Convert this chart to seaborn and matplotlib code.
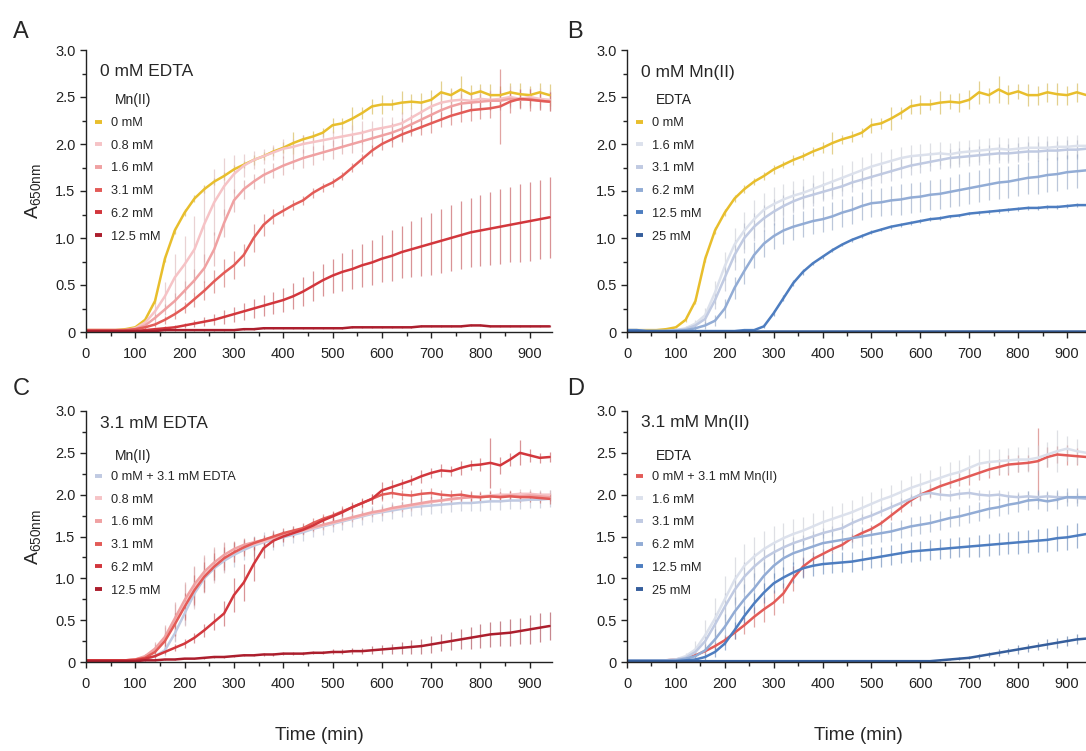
import numpy as np
import pandas as pd
import matplotlib
matplotlib.use("Agg")
import matplotlib.pyplot as plt
import matplotlib.colors as mcolors
import seaborn as sns
from matplotlib.lines import Line2D
from matplotlib.ticker import MultipleLocator

sns.set_style("ticks")
plt.rcParams['font.family'] = ['Liberation Sans', 'DejaVu Sans']
plt.rcParams['mathtext.default'] = 'regular'

# ---------------- data (20-min sampling) ----------------
TIME = [0, 20, 40, 60, 80, 100, 120, 140, 160, 180, 200, 220,
        240, 260, 280, 300, 320, 340, 360, 380, 400, 420, 440, 460,
        480, 500, 520, 540, 560, 580, 600, 620, 640, 660, 680, 700,
        720, 740, 760, 780, 800, 820, 840, 860, 880, 900, 920, 940]

# control: 0 mM Mn(II), 0 mM EDTA
CTRL = [0.02, 0.02, 0.02, 0.02, 0.03, 0.05, 0.13, 0.33, 0.78, 1.08, 1.27, 1.42,
        1.52, 1.60, 1.66, 1.73, 1.78, 1.83, 1.87, 1.92, 1.96, 2.01, 2.05, 2.08,
        2.12, 2.20, 2.22, 2.27, 2.33, 2.40, 2.42, 2.42, 2.44, 2.45, 2.44, 2.47,
        2.55, 2.52, 2.58, 2.53, 2.56, 2.52, 2.52, 2.55, 2.53, 2.52, 2.55, 2.52]
CTRL_ERR = [0.01, 0.01, 0.01, 0.01, 0.01, 0.01, 0.02, 0.03, 0.04, 0.04, 0.04, 0.04,
            0.04, 0.04, 0.04, 0.05, 0.04, 0.05, 0.04, 0.05, 0.06, 0.12, 0.05, 0.06,
            0.05, 0.08, 0.06, 0.12, 0.06, 0.08, 0.10, 0.06, 0.12, 0.08, 0.10, 0.10,
            0.12, 0.08, 0.14, 0.10, 0.08, 0.12, 0.10, 0.10, 0.12, 0.10, 0.10, 0.12]

# Mn(II) series, 0 mM EDTA
MN08 = [0.02, 0.02, 0.02, 0.02, 0.02, 0.04, 0.10, 0.22, 0.38, 0.58, 0.72, 0.88,
        1.15, 1.38, 1.55, 1.68, 1.77, 1.83, 1.87, 1.91, 1.95, 1.97, 2.00, 2.02,
        2.04, 2.06, 2.08, 2.10, 2.12, 2.15, 2.17, 2.19, 2.22, 2.28, 2.34, 2.40,
        2.44, 2.46, 2.47, 2.46, 2.48, 2.47, 2.48, 2.50, 2.48, 2.50, 2.48, 2.47]
MN08_ERR = [0.01, 0.01, 0.01, 0.01, 0.01, 0.01, 0.03, 0.08, 0.15, 0.25, 0.30, 0.35,
            0.40, 0.35, 0.30, 0.20, 0.12, 0.10, 0.08, 0.08, 0.10, 0.08, 0.10, 0.08,
            0.10, 0.08, 0.10, 0.10, 0.12, 0.10, 0.12, 0.10, 0.12, 0.10, 0.12, 0.10,
            0.10, 0.12, 0.10, 0.10, 0.12, 0.10, 0.10, 0.12, 0.10, 0.10, 0.12, 0.10]
MN16 = [0.02, 0.02, 0.02, 0.02, 0.02, 0.03, 0.07, 0.15, 0.24, 0.33, 0.44, 0.55,
        0.68, 0.88, 1.16, 1.40, 1.52, 1.60, 1.67, 1.72, 1.77, 1.81, 1.85, 1.88,
        1.91, 1.94, 1.97, 2.00, 2.03, 2.06, 2.09, 2.12, 2.16, 2.21, 2.26, 2.31,
        2.36, 2.40, 2.43, 2.44, 2.45, 2.46, 2.46, 2.48, 2.47, 2.48, 2.46, 2.45]
MN16_ERR = [0.01, 0.01, 0.01, 0.01, 0.01, 0.01, 0.02, 0.04, 0.06, 0.08, 0.10, 0.12,
            0.15, 0.18, 0.15, 0.12, 0.10, 0.08, 0.08, 0.08, 0.10, 0.08, 0.10, 0.10,
            0.08, 0.10, 0.08, 0.10, 0.12, 0.10, 0.08, 0.10, 0.12, 0.10, 0.10, 0.08,
            0.10, 0.08, 0.10, 0.10, 0.08, 0.10, 0.10, 0.08, 0.10, 0.10, 0.08, 0.10]
MN31 = [0.02, 0.02, 0.02, 0.02, 0.02, 0.03, 0.05, 0.08, 0.13, 0.19, 0.26, 0.35,
        0.44, 0.54, 0.63, 0.71, 0.82, 1.00, 1.14, 1.23, 1.29, 1.35, 1.40, 1.48,
        1.54, 1.59, 1.66, 1.75, 1.84, 1.93, 2.00, 2.05, 2.10, 2.14, 2.18, 2.22,
        2.26, 2.30, 2.33, 2.36, 2.37, 2.38, 2.40, 2.45, 2.48, 2.47, 2.46, 2.45]
MN31_ERR = [0.01, 0.01, 0.01, 0.01, 0.01, 0.01, 0.02, 0.03, 0.04, 0.05, 0.06, 0.08,
            0.10, 0.12, 0.15, 0.15, 0.12, 0.15, 0.12, 0.08, 0.06, 0.05, 0.05, 0.05,
            0.05, 0.05, 0.04, 0.05, 0.05, 0.06, 0.06, 0.08, 0.08, 0.06, 0.08, 0.10,
            0.08, 0.10, 0.10, 0.12, 0.10, 0.10, 0.40, 0.12, 0.10, 0.12, 0.10, 0.10]
MN62 = [0.00, 0.00, 0.00, 0.00, 0.01, 0.01, 0.02, 0.03, 0.04, 0.05, 0.07, 0.09,
        0.11, 0.13, 0.16, 0.19, 0.22, 0.25, 0.28, 0.31, 0.34, 0.38, 0.43, 0.49,
        0.55, 0.60, 0.64, 0.67, 0.71, 0.74, 0.78, 0.81, 0.85, 0.88, 0.91, 0.94,
        0.97, 1.00, 1.03, 1.06, 1.08, 1.10, 1.12, 1.14, 1.16, 1.18, 1.20, 1.22]
MN62_ERR = [0.00, 0.00, 0.00, 0.00, 0.00, 0.01, 0.01, 0.01, 0.02, 0.02, 0.03, 0.04,
            0.05, 0.06, 0.07, 0.08, 0.09, 0.10, 0.11, 0.12, 0.13, 0.14, 0.15, 0.16,
            0.17, 0.18, 0.20, 0.21, 0.23, 0.24, 0.25, 0.27, 0.28, 0.30, 0.31, 0.33,
            0.34, 0.35, 0.36, 0.37, 0.38, 0.39, 0.40, 0.40, 0.41, 0.42, 0.42, 0.43]
MN125 = [0.01, 0.01, 0.01, 0.01, 0.01, 0.01, 0.01, 0.01, 0.02, 0.02, 0.02, 0.02,
         0.02, 0.02, 0.02, 0.02, 0.03, 0.03, 0.04, 0.04, 0.04, 0.04, 0.04, 0.04,
         0.04, 0.04, 0.04, 0.05, 0.05, 0.05, 0.05, 0.05, 0.05, 0.05, 0.06, 0.06,
         0.06, 0.06, 0.06, 0.07, 0.07, 0.06, 0.06, 0.06, 0.06, 0.06, 0.06, 0.06]
MN125_ERR = [0.01] * 48

# EDTA series, 0 mM Mn(II)
ED16 = [0.02, 0.02, 0.01, 0.01, 0.01, 0.02, 0.04, 0.09, 0.18, 0.42, 0.70, 0.93,
        1.08, 1.20, 1.30, 1.36, 1.41, 1.45, 1.48, 1.52, 1.56, 1.60, 1.64, 1.68,
        1.72, 1.76, 1.79, 1.82, 1.85, 1.87, 1.88, 1.89, 1.90, 1.89, 1.91, 1.92,
        1.93, 1.94, 1.95, 1.94, 1.95, 1.96, 1.96, 1.96, 1.97, 1.97, 1.98, 1.98]
ED16_ERR = [0.01, 0.01, 0.01, 0.01, 0.01, 0.01, 0.02, 0.04, 0.08, 0.12, 0.15, 0.18,
            0.20, 0.20, 0.18, 0.18, 0.16, 0.16, 0.15, 0.15, 0.15, 0.15, 0.14, 0.14,
            0.14, 0.14, 0.13, 0.13, 0.12, 0.12, 0.12, 0.12, 0.12, 0.12, 0.12, 0.12,
            0.12, 0.12, 0.12, 0.12, 0.12, 0.12, 0.12, 0.12, 0.12, 0.12, 0.12, 0.12]
ED31 = [0.02, 0.02, 0.01, 0.01, 0.01, 0.02, 0.03, 0.07, 0.14, 0.34, 0.58, 0.82,
        1.00, 1.12, 1.21, 1.28, 1.34, 1.39, 1.43, 1.46, 1.49, 1.52, 1.55, 1.59,
        1.62, 1.65, 1.68, 1.71, 1.74, 1.77, 1.79, 1.81, 1.83, 1.85, 1.86, 1.87,
        1.88, 1.89, 1.90, 1.90, 1.91, 1.92, 1.92, 1.93, 1.93, 1.94, 1.94, 1.95]
ED31_ERR = [0.01, 0.01, 0.01, 0.01, 0.01, 0.01, 0.02, 0.04, 0.07, 0.10, 0.14, 0.16,
            0.16, 0.15, 0.14, 0.14, 0.12, 0.12, 0.12, 0.12, 0.10, 0.10, 0.10, 0.10,
            0.10, 0.10, 0.10, 0.10, 0.10, 0.10, 0.10, 0.10, 0.10, 0.10, 0.10, 0.10,
            0.10, 0.10, 0.10, 0.10, 0.10, 0.10, 0.10, 0.10, 0.10, 0.10, 0.10, 0.10]
ED62 = [0.01, 0.01, 0.01, 0.01, 0.01, 0.01, 0.02, 0.04, 0.07, 0.12, 0.25, 0.47,
        0.65, 0.82, 0.94, 1.02, 1.08, 1.12, 1.15, 1.18, 1.20, 1.23, 1.27, 1.30,
        1.34, 1.37, 1.38, 1.40, 1.41, 1.43, 1.44, 1.46, 1.47, 1.49, 1.51, 1.53,
        1.55, 1.57, 1.59, 1.60, 1.62, 1.64, 1.65, 1.67, 1.68, 1.70, 1.71, 1.72]
ED62_ERR = [0.01, 0.01, 0.01, 0.01, 0.01, 0.01, 0.01, 0.02, 0.04, 0.06, 0.10, 0.12,
            0.14, 0.14, 0.14, 0.14, 0.14, 0.14, 0.14, 0.14, 0.14, 0.15, 0.15, 0.15,
            0.15, 0.15, 0.15, 0.15, 0.16, 0.16, 0.16, 0.16, 0.16, 0.16, 0.17, 0.17,
            0.17, 0.17, 0.17, 0.17, 0.17, 0.17, 0.18, 0.18, 0.18, 0.18, 0.18, 0.18]
ED125 = [0.02, 0.02, 0.01, 0.01, 0.01, 0.01, 0.01, 0.01, 0.01, 0.01, 0.01, 0.01,
         0.02, 0.02, 0.06, 0.20, 0.36, 0.52, 0.64, 0.73, 0.80, 0.87, 0.93, 0.98,
         1.02, 1.06, 1.09, 1.12, 1.14, 1.16, 1.18, 1.20, 1.21, 1.23, 1.24, 1.26,
         1.27, 1.28, 1.29, 1.30, 1.31, 1.32, 1.32, 1.33, 1.33, 1.34, 1.35, 1.35]
ED125_ERR = [0.01, 0.01, 0.01, 0.01, 0.01, 0.01, 0.01, 0.01, 0.01, 0.01, 0.01, 0.01,
             0.01, 0.01, 0.02, 0.03, 0.03, 0.03, 0.03, 0.02, 0.02, 0.02, 0.02, 0.02,
             0.02, 0.02, 0.02, 0.02, 0.02, 0.02, 0.02, 0.02, 0.02, 0.02, 0.02, 0.02,
             0.02, 0.02, 0.02, 0.02, 0.02, 0.02, 0.02, 0.02, 0.02, 0.02, 0.02, 0.02]
ED25 = [0.01] * 48
ED25_ERR = [0.005] * 48

# Mn(II) series, 3.1 mM EDTA
C_MN08 = [0.02, 0.02, 0.02, 0.02, 0.02, 0.03, 0.06, 0.14, 0.27, 0.47, 0.68, 0.88,
          1.04, 1.15, 1.24, 1.31, 1.37, 1.41, 1.44, 1.48, 1.51, 1.54, 1.57, 1.60,
          1.63, 1.66, 1.69, 1.72, 1.75, 1.78, 1.80, 1.83, 1.85, 1.87, 1.89, 1.91,
          1.93, 1.94, 1.96, 1.97, 1.98, 1.99, 2.00, 2.00, 2.01, 2.01, 2.00, 2.00]
C_MN08_ERR = [0.01, 0.01, 0.01, 0.01, 0.01, 0.01, 0.03, 0.08, 0.15, 0.22, 0.25, 0.25,
              0.22, 0.20, 0.18, 0.12, 0.08, 0.06, 0.06, 0.06, 0.06, 0.06, 0.05, 0.05,
              0.05, 0.05, 0.05, 0.05, 0.05, 0.05, 0.05, 0.05, 0.06, 0.06, 0.06, 0.06,
              0.06, 0.06, 0.06, 0.06, 0.06, 0.06, 0.08, 0.06, 0.06, 0.06, 0.06, 0.06]
C_MN16 = [0.02, 0.02, 0.02, 0.02, 0.02, 0.03, 0.07, 0.16, 0.30, 0.52, 0.74, 0.93,
          1.08, 1.19, 1.28, 1.35, 1.40, 1.43, 1.46, 1.49, 1.52, 1.55, 1.58, 1.61,
          1.64, 1.67, 1.70, 1.73, 1.76, 1.79, 1.81, 1.84, 1.86, 1.88, 1.90, 1.92,
          1.93, 1.95, 1.96, 1.97, 1.97, 1.98, 1.98, 1.99, 1.98, 1.99, 1.98, 1.97]
C_MN16_ERR = [0.01, 0.01, 0.01, 0.01, 0.01, 0.01, 0.03, 0.08, 0.14, 0.20, 0.22, 0.22,
              0.20, 0.18, 0.15, 0.10, 0.08, 0.06, 0.05, 0.05, 0.05, 0.05, 0.05, 0.05,
              0.05, 0.05, 0.05, 0.05, 0.05, 0.05, 0.05, 0.05, 0.05, 0.05, 0.05, 0.05,
              0.05, 0.05, 0.05, 0.05, 0.05, 0.05, 0.05, 0.05, 0.05, 0.05, 0.05, 0.05]
# 3.1 mM Mn(II) + 3.1 mM EDTA (shared by panels C and D)
MN31_ED31 = [0.02, 0.02, 0.02, 0.02, 0.02, 0.03, 0.05, 0.12, 0.25, 0.45, 0.66, 0.86,
             1.02, 1.14, 1.24, 1.31, 1.37, 1.42, 1.46, 1.50, 1.54, 1.57, 1.60, 1.66,
             1.71, 1.75, 1.80, 1.85, 1.90, 1.95, 2.00, 2.02, 2.00, 1.99, 2.01, 2.02,
             2.00, 1.99, 2.00, 1.98, 1.97, 1.98, 1.97, 1.98, 1.97, 1.97, 1.96, 1.95]
MN31_ED31_ERR = [0.01, 0.01, 0.01, 0.01, 0.01, 0.01, 0.03, 0.06, 0.10, 0.14, 0.16, 0.18,
                 0.18, 0.16, 0.14, 0.12, 0.10, 0.08, 0.06, 0.06, 0.06, 0.06, 0.06, 0.06,
                 0.06, 0.06, 0.06, 0.06, 0.06, 0.06, 0.08, 0.06, 0.06, 0.06, 0.06, 0.06,
                 0.06, 0.06, 0.06, 0.06, 0.06, 0.06, 0.06, 0.06, 0.06, 0.06, 0.06, 0.06]
C_MN62 = [0.02, 0.02, 0.02, 0.02, 0.02, 0.02, 0.04, 0.07, 0.12, 0.17, 0.22, 0.29,
          0.38, 0.48, 0.58, 0.80, 0.95, 1.17, 1.36, 1.45, 1.50, 1.54, 1.58, 1.63,
          1.69, 1.74, 1.79, 1.85, 1.90, 1.95, 2.05, 2.09, 2.13, 2.17, 2.22, 2.26,
          2.29, 2.28, 2.32, 2.35, 2.36, 2.38, 2.35, 2.42, 2.50, 2.47, 2.44, 2.45]
C_MN62_ERR = [0.01, 0.01, 0.01, 0.01, 0.01, 0.01, 0.01, 0.02, 0.03, 0.04, 0.05, 0.06,
              0.08, 0.10, 0.15, 0.20, 0.22, 0.20, 0.12, 0.08, 0.06, 0.05, 0.05, 0.05,
              0.05, 0.05, 0.05, 0.05, 0.05, 0.06, 0.10, 0.08, 0.06, 0.06, 0.08, 0.06,
              0.08, 0.06, 0.08, 0.06, 0.08, 0.30, 0.10, 0.08, 0.15, 0.08, 0.06, 0.06]
C_MN125 = [0.01, 0.01, 0.01, 0.01, 0.01, 0.01, 0.02, 0.02, 0.03, 0.03, 0.04, 0.04,
           0.05, 0.06, 0.06, 0.07, 0.08, 0.08, 0.09, 0.09, 0.10, 0.10, 0.10, 0.11,
           0.11, 0.12, 0.12, 0.13, 0.13, 0.14, 0.15, 0.16, 0.17, 0.18, 0.19, 0.21,
           0.23, 0.25, 0.27, 0.29, 0.31, 0.33, 0.34, 0.35, 0.37, 0.39, 0.41, 0.43]
C_MN125_ERR = [0.00, 0.00, 0.00, 0.00, 0.00, 0.00, 0.01, 0.01, 0.01, 0.01, 0.01, 0.01,
               0.01, 0.01, 0.01, 0.01, 0.01, 0.01, 0.02, 0.02, 0.02, 0.02, 0.02, 0.02,
               0.02, 0.03, 0.03, 0.04, 0.04, 0.05, 0.05, 0.06, 0.07, 0.08, 0.09, 0.10,
               0.10, 0.11, 0.12, 0.13, 0.14, 0.15, 0.15, 0.16, 0.16, 0.17, 0.17, 0.17]

# EDTA series, 3.1 mM Mn(II)
D_ED16 = [0.02, 0.02, 0.02, 0.02, 0.02, 0.03, 0.07, 0.15, 0.32, 0.52, 0.75, 0.98,
          1.15, 1.26, 1.35, 1.42, 1.48, 1.53, 1.57, 1.62, 1.67, 1.71, 1.75, 1.79,
          1.84, 1.89, 1.94, 1.98, 2.03, 2.08, 2.12, 2.16, 2.20, 2.24, 2.27, 2.32,
          2.37, 2.39, 2.40, 2.41, 2.42, 2.42, 2.44, 2.48, 2.52, 2.55, 2.52, 2.50]
D_ED16_ERR = [0.01, 0.01, 0.01, 0.01, 0.01, 0.02, 0.04, 0.10, 0.18, 0.25, 0.28, 0.28,
              0.26, 0.24, 0.22, 0.20, 0.18, 0.18, 0.16, 0.16, 0.15, 0.15, 0.15, 0.15,
              0.14, 0.14, 0.14, 0.14, 0.14, 0.14, 0.14, 0.14, 0.14, 0.15, 0.15, 0.15,
              0.18, 0.15, 0.15, 0.15, 0.15, 0.15, 0.15, 0.15, 0.25, 0.15, 0.15, 0.15]
D_ED62 = [0.02, 0.02, 0.02, 0.02, 0.02, 0.02, 0.04, 0.07, 0.14, 0.27, 0.42, 0.60,
          0.75, 0.88, 1.03, 1.15, 1.24, 1.30, 1.34, 1.38, 1.42, 1.44, 1.46, 1.48,
          1.50, 1.52, 1.54, 1.56, 1.59, 1.62, 1.64, 1.66, 1.69, 1.72, 1.74, 1.77,
          1.80, 1.83, 1.85, 1.88, 1.90, 1.93, 1.94, 1.92, 1.94, 1.97, 1.97, 1.97]
D_ED62_ERR = [0.01, 0.01, 0.01, 0.01, 0.01, 0.01, 0.02, 0.04, 0.08, 0.12, 0.15, 0.18,
              0.18, 0.18, 0.16, 0.15, 0.14, 0.13, 0.12, 0.12, 0.12, 0.12, 0.12, 0.12,
              0.11, 0.11, 0.11, 0.11, 0.11, 0.11, 0.11, 0.11, 0.11, 0.11, 0.11, 0.11,
              0.11, 0.11, 0.11, 0.11, 0.11, 0.11, 0.11, 0.11, 0.11, 0.11, 0.11, 0.11]
D_ED125 = [0.01, 0.01, 0.01, 0.01, 0.01, 0.01, 0.02, 0.03, 0.06, 0.12, 0.22, 0.38,
           0.55, 0.70, 0.83, 0.94, 1.01, 1.07, 1.12, 1.15, 1.17, 1.18, 1.19, 1.20,
           1.22, 1.24, 1.26, 1.28, 1.30, 1.32, 1.33, 1.34, 1.35, 1.36, 1.37, 1.38,
           1.39, 1.40, 1.41, 1.42, 1.43, 1.44, 1.45, 1.46, 1.48, 1.49, 1.51, 1.53]
D_ED125_ERR = [0.01, 0.01, 0.01, 0.01, 0.01, 0.01, 0.01, 0.02, 0.04, 0.06, 0.08, 0.10,
               0.12, 0.12, 0.12, 0.12, 0.12, 0.12, 0.12, 0.12, 0.12, 0.12, 0.12, 0.12,
               0.12, 0.12, 0.12, 0.12, 0.12, 0.12, 0.12, 0.12, 0.12, 0.12, 0.12, 0.12,
               0.13, 0.13, 0.13, 0.13, 0.14, 0.14, 0.14, 0.14, 0.15, 0.15, 0.15, 0.15]
D_ED25 = [0.01, 0.01, 0.01, 0.01, 0.01, 0.01, 0.01, 0.01, 0.01, 0.01, 0.01, 0.01,
          0.01, 0.01, 0.01, 0.01, 0.01, 0.01, 0.01, 0.01, 0.01, 0.01, 0.01, 0.01,
          0.01, 0.01, 0.01, 0.01, 0.01, 0.01, 0.01, 0.01, 0.02, 0.03, 0.04, 0.05,
          0.07, 0.09, 0.11, 0.13, 0.15, 0.17, 0.19, 0.21, 0.23, 0.25, 0.27, 0.28]
D_ED25_ERR = [0.005, 0.005, 0.005, 0.005, 0.005, 0.005, 0.005, 0.005, 0.005, 0.005, 0.005, 0.005,
              0.005, 0.005, 0.005, 0.005, 0.005, 0.005, 0.005, 0.005, 0.005, 0.005, 0.005, 0.005,
              0.005, 0.005, 0.005, 0.005, 0.005, 0.005, 0.005, 0.005, 0.01, 0.01, 0.02, 0.02,
              0.03, 0.03, 0.04, 0.04, 0.05, 0.05, 0.05, 0.06, 0.06, 0.06, 0.06, 0.06]

# ---------------- colours ----------------
YELLOW = "#E8BE2C"
RED = {"0.8": "#F6C3C6", "1.6": "#F0A1A2", "3.1": "#E35B57", "6.2": "#D2363C", "12.5": "#AC1E2D"}
BLUE = {"1.6": "#DCE1EC", "3.1": "#C0CAE2", "6.2": "#92ACD5", "12.5": "#4D7DC0", "25": "#355E9C"}


def bar_colour(c):
    """error bars: series colour slightly greyed, as in the reference"""
    a = np.array(mcolors.to_rgb(c))
    g = np.array(mcolors.to_rgb("#8a8a8a"))
    return tuple(0.75 * a + 0.25 * g)


# layout (pixel offsets below each axes' top edge)
TOP_LAYOUT = dict(title=22, legtitle=50, legtop=67)
BOT_LAYOUT = dict(title=12, legtitle=45, legtop=60)

PANELS = [
    dict(letter="A", title="0 mM EDTA", legtitle="Mn(II)", lay=TOP_LAYOUT,
         rect=[86 / 1086, 419 / 751, 466 / 1086, 282 / 751], ylabel=True, xlabel=False,
         series=[("0 mM", CTRL, CTRL_ERR, YELLOW),
                 ("0.8 mM", MN08, MN08_ERR, RED["0.8"]),
                 ("1.6 mM", MN16, MN16_ERR, RED["1.6"]),
                 ("3.1 mM", MN31, MN31_ERR, RED["3.1"]),
                 ("6.2 mM", MN62, MN62_ERR, RED["6.2"]),
                 ("12.5 mM", MN125, MN125_ERR, RED["12.5"])]),
    dict(letter="B", title="0 mM Mn(II)", legtitle="EDTA", lay=TOP_LAYOUT,
         rect=[627 / 1086, 419 / 751, 462 / 1086, 282 / 751], ylabel=False, xlabel=False,
         series=[("0 mM", CTRL, CTRL_ERR, YELLOW),
                 ("1.6 mM", ED16, ED16_ERR, BLUE["1.6"]),
                 ("3.1 mM", ED31, ED31_ERR, BLUE["3.1"]),
                 ("6.2 mM", ED62, ED62_ERR, BLUE["6.2"]),
                 ("12.5 mM", ED125, ED125_ERR, BLUE["12.5"]),
                 ("25 mM", ED25, ED25_ERR, BLUE["25"])]),
    dict(letter="C", title="3.1 mM EDTA", legtitle="Mn(II)", lay=BOT_LAYOUT,
         rect=[86 / 1086, 89 / 751, 466 / 1086, 251 / 751], ylabel=True, xlabel=True,
         series=[("0 mM + 3.1 mM EDTA", ED31, ED31_ERR, BLUE["3.1"]),
                 ("0.8 mM", C_MN08, C_MN08_ERR, RED["0.8"]),
                 ("1.6 mM", C_MN16, C_MN16_ERR, RED["1.6"]),
                 ("3.1 mM", MN31_ED31, MN31_ED31_ERR, RED["3.1"]),
                 ("6.2 mM", C_MN62, C_MN62_ERR, RED["6.2"]),
                 ("12.5 mM", C_MN125, C_MN125_ERR, RED["12.5"])]),
    dict(letter="D", title="3.1 mM Mn(II)", legtitle="EDTA", lay=BOT_LAYOUT,
         rect=[627 / 1086, 89 / 751, 462 / 1086, 251 / 751], ylabel=False, xlabel=True,
         series=[("0 mM + 3.1 mM Mn(II)", MN31, MN31_ERR, RED["3.1"]),
                 ("1.6 mM", D_ED16, D_ED16_ERR, BLUE["1.6"]),
                 ("3.1 mM", MN31_ED31, MN31_ED31_ERR, BLUE["3.1"]),
                 ("6.2 mM", D_ED62, D_ED62_ERR, BLUE["6.2"]),
                 ("12.5 mM", D_ED125, D_ED125_ERR, BLUE["12.5"]),
                 ("25 mM", D_ED25, D_ED25_ERR, BLUE["25"])]),
]

LETTER_POS = {"A": (0.012, 0.958), "B": (0.522, 0.958), "C": (0.012, 0.482), "D": (0.522, 0.482)}

fig = plt.figure(figsize=(10.86, 7.51), dpi=100)

for p in PANELS:
    ax = fig.add_axes(p["rect"])
    frames = []
    palette = {}
    order = []
    for label, mean, err, color in p["series"]:
        frames.append(pd.DataFrame({"Time": TIME, "A": mean, "series": label}))
        palette[label] = color
        order.append(label)
        ax.errorbar(TIME, mean, yerr=err, fmt="none", ecolor=bar_colour(color),
                    elinewidth=0.9, alpha=0.6, capsize=0, zorder=1)
    data = pd.concat(frames, ignore_index=True)
    sns.lineplot(data=data, x="Time", y="A", hue="series", hue_order=order,
                 palette=palette, legend=False, ax=ax, linewidth=1.8,
                 errorbar=None, sort=False, zorder=2)

    ax.set_xlim(0, 945)
    ax.set_ylim(0, 3.0)
    ax.set_xticks([0, 100, 200, 300, 400, 500, 600, 700, 800, 900])
    ax.xaxis.set_minor_locator(MultipleLocator(50))
    ax.set_yticks([0, 0.5, 1.0, 1.5, 2.0, 2.5, 3.0])
    ax.set_yticklabels(["0", "0.5", "1.0", "1.5", "2.0", "2.5", "3.0"])
    ax.yaxis.set_minor_locator(MultipleLocator(0.25))
    ax.tick_params(which="major", direction="out", length=4, width=1, labelsize=10.5, colors="#222222")
    ax.tick_params(which="minor", direction="out", length=3, width=1, colors="#222222")
    ax.tick_params(axis="x", which="major", pad=7)
    for s in ["top", "right"]:
        ax.spines[s].set_visible(False)
    for s in ["left", "bottom"]:
        ax.spines[s].set_linewidth(1.0)
        ax.spines[s].set_color("#222222")

    if p["ylabel"]:
        ax.set_ylabel("A$_{650nm}$", fontsize=14, labelpad=9)
    else:
        ax.set_ylabel("")
    if p["xlabel"]:
        ax.set_xlabel("Time (min)", fontsize=13.5, labelpad=26)
    else:
        ax.set_xlabel("")

    h_px = p["rect"][3] * 751
    lay = p["lay"]
    ax.text(0.03, 1.0 - lay["title"] / h_px, p["title"], transform=ax.transAxes,
            fontsize=12.5, ha="left", va="center")
    ax.text(0.062, 1.0 - lay["legtitle"] / h_px, p["legtitle"], transform=ax.transAxes,
            fontsize=10, ha="left", va="center", color="#222222")
    handles = [Line2D([], [], color=c, lw=2.8, solid_capstyle="butt") for _, _, _, c in p["series"]]
    labels = [s[0] for s in p["series"]]
    ax.legend(handles, labels, loc="upper left", bbox_to_anchor=(0.02, 1.0 - lay["legtop"] / h_px),
              frameon=False, fontsize=9.2, handlelength=0.55, handletextpad=0.65,
              labelspacing=0.84, borderpad=0, borderaxespad=0)

    fig.text(LETTER_POS[p["letter"]][0], LETTER_POS[p["letter"]][1], p["letter"],
             fontsize=17, ha="left", va="center")

fig.savefig("out.png", dpi=100, facecolor="white")
